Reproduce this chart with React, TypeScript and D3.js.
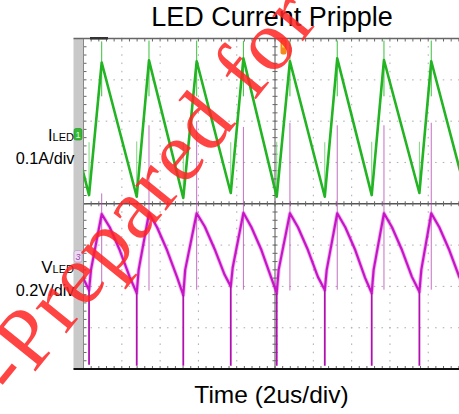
import React from 'react';
import * as d3 from 'd3';

const W = 459;
const H = 414;

const titleText = 'LED Current Pripple';
const xLabelText = 'Time (2us/div)';
const ch1Name = ['I', 'LED'];
const ch1Scale = '0.1A/div';
const ch3Name = ['V', 'LED'];
const ch3Scale = '0.2V/div';
const watermarkText = '-Prepared for H';

// time in microseconds (2 us/div, 10 div), amplitude in screen divisions (-4..4)
const timeDomain = [0, 20];
const divDomain = [-4, 4];

// ILED trace vertices (alternating peaks / troughs)
const iledTimes = [-1.51, 0.29, 0.95, 2.78, 3.42, 5.21, 5.91, 7.69, 8.35, 10.09, 10.78, 12.6, 13.25, 15.05, 15.69, 17.54, 18.16, 20.0];
const iledDivs = [3.45, 0.21, 3.42, 0.17, 3.47, 0.14, 3.45, 0.26, 3.52, 0.17, 3.45, 0.17, 3.52, 0.21, 3.48, 0.26, 3.45, 0.2];
// thin switching spikes on ILED
const iledPeakTimes = [0.95, 3.42, 5.91, 8.35, 10.78, 13.25, 15.69, 18.16];
const iledPeakSpikeTop = [3.93, 3.95, 3.95, 3.94, 3.95, 3.95, 3.95, 3.95];
const iledPeakSpikeLow = [2.6, 2.6, 2.6, 2.6, 2.6, 2.6, 2.6, 2.6];
const iledTroughTimes = [0.29, 2.78, 5.21, 7.69, 10.09, 12.6, 15.05, 17.54];
const iledTroughDivs = [0.21, 0.17, 0.14, 0.26, 0.17, 0.17, 0.21, 0.26];
const iledTroughSpikeTop = [1.49, 1.51, 1.5, 1.49, 1.5, 1.49, 1.5, 1.5];

// VLED trace vertices
const vledTimes = [
  -1.51, -1.09, -0.57, -0.05, 0.29,
  0.39, 0.95, 1.37, 1.89, 2.41, 2.78,
  2.88, 3.42, 3.84, 4.36, 4.88, 5.21,
  5.31, 5.91, 6.33, 6.85, 7.37, 7.69,
  7.79, 8.35, 8.77, 9.29, 9.81, 10.09,
  10.19, 10.78, 11.2, 11.72, 12.24, 12.6,
  12.7, 13.25, 13.67, 14.19, 14.71, 15.05,
  15.15, 15.69, 16.11, 16.63, 17.15, 17.54,
  17.64, 18.16, 18.58, 19.1, 19.62, 20.0,
];
const vledDivs = [
  -0.23, -0.57, -1.12, -1.77, -2.09,
  -1.6, -0.25, -0.57, -1.12, -1.77, -2.16,
  -1.6, -0.23, -0.57, -1.12, -1.77, -2.21,
  -1.6, -0.23, -0.55, -1.1, -1.72, -2.0,
  -1.55, -0.22, -0.57, -1.12, -1.8, -2.16,
  -1.6, -0.23, -0.57, -1.12, -1.77, -2.09,
  -1.6, -0.23, -0.57, -1.12, -1.8, -2.16,
  -1.6, -0.23, -0.57, -1.12, -1.77, -2.13,
  -1.6, -0.23, -0.57, -1.12, -1.77, -2.1,
];
// deep negative spikes at the switching instants
const vledTroughTimes = [0.29, 2.78, 5.21, 7.69, 10.09, 12.6, 15.05, 17.54];
const vledTroughDivs = [-2.09, -2.16, -2.21, -2.0, -2.16, -2.09, -2.16, -2.13];
const vledSpikeBottom = [-3.9, -3.92, -3.92, -3.92, -3.92, -3.92, -3.92, -3.92];
// thin spikes at the peaks
const vledPeakTimes = [0.95, 3.42, 5.91, 8.35, 10.78, 13.25, 15.69, 18.16];
const vledPeakSpikeTop = [0.25, 1.9, 2.0, 1.86, 1.96, 1.9, 1.9, 1.96];
const vledPeakSpikeBottom = [-2.05, -2.1, -2.08, -2.08, -2.1, -2.08, -2.08, -2.08];

const SANS = 'Liberation Sans, Arial, Helvetica, sans-serif';
const SERIF = 'Liberation Serif, Times New Roman, serif';

export default function App() {
  const x = d3.scaleLinear().domain(timeDomain).range([83.5, 466.5]);
  const y = d3.scaleLinear().domain(divDomain).range([369, 38.5]);
  const line = d3.line<[number, number]>().x((d) => x(d[0])).y((d) => y(d[1]));

  const iledPts = iledTimes.map((t, i) => [t, iledDivs[i]] as [number, number]);
  const vledPts = vledTimes.map((t, i) => [t, vledDivs[i]] as [number, number]);

  const left = 83.5;
  const right = W;
  const top = y(4);
  const bottom = y(-4);
  const cx = x(10);
  const cy = y(0);

  const minorX = d3.range(0, 20.001, 0.4);
  const minorY = d3.range(-4, 4.001, 0.2);
  const majorX = d3.range(2, 19.9, 2).filter((v) => Math.abs(v - 10) > 0.01);
  const majorY = [-3, -2, -1, 1, 2, 3];

  return (
    <svg width={W} height={H} style={{ position: 'absolute', left: 0, top: 0, background: '#fff' }}>
      <defs>
        <clipPath id="plotClip">
          <rect x={left} y={top} width={right - left} height={bottom - top} />
        </clipPath>
      </defs>
      <rect x={0} y={0} width={W} height={H} fill="#fff" />
      {/* gray strip */}
      <rect x={73.5} y={top} width={left - 73.5} height={bottom - top} fill="#c9c9c9" />

      {/* dotted grid */}
      <g fill="#b4b4b4">
        {majorY.map((d) =>
          minorX.map((t) => (
            <rect key={`h${d}-${t}`} x={x(t) - 0.8} y={y(d) - 0.5} width={1.6} height={1.1} />
          ))
        )}
        {majorX.map((t) =>
          minorY.map((d) => (
            <rect key={`v${t}-${d}`} x={x(t) - 0.5} y={y(d) - 0.8} width={1.1} height={1.6} />
          ))
        )}
      </g>

      {/* center axes */}
      <line x1={left} x2={right} y1={cy} y2={cy} stroke="#555" strokeWidth={1.5} />
      <line x1={cx} x2={cx} y1={top} y2={bottom} stroke="#555" strokeWidth={1} />
      <g stroke="#666" strokeWidth={1}>
        {minorX.map((t) => (
          <line key={`cxt${t}`} x1={x(t)} x2={x(t)} y1={cy - 2.5} y2={cy + 2.5} />
        ))}
        {minorY.map((d) => (
          <line key={`cyt${d}`} x1={cx - 2.5} x2={cx + 2.5} y1={y(d)} y2={y(d)} />
        ))}
        {minorX.map((t) => (
          <line key={`tt${t}`} x1={x(t)} x2={x(t)} y1={top} y2={top + 3} />
        ))}
        {minorX.map((t) => (
          <line key={`bt${t}`} x1={x(t)} x2={x(t)} y1={bottom} y2={bottom - 3} />
        ))}
        {minorY.map((d) => (
          <line key={`lt${d}`} x1={left} x2={left + 3} y1={y(d)} y2={y(d)} />
        ))}
      </g>
      {/* borders */}
      <line x1={left} x2={left} y1={top} y2={bottom} stroke="#888" strokeWidth={1} />
      <line x1={73.5} x2={right} y1={top} y2={top} stroke="#666" strokeWidth={1.5} />
      <line x1={73.5} x2={right} y1={bottom} y2={bottom} stroke="#111" strokeWidth={2} />
      <rect x={90} y={top - 1.5} width={18} height={2.5} fill="#333" />

      <g clipPath="url(#plotClip)">
        {/* VLED thin peak spikes */}
        <g stroke="#b040b0" strokeWidth={1} opacity={0.75}>
          {vledPeakTimes.map((t, i) => (
            <line key={`vps${i}`} x1={x(t)} x2={x(t)} y1={y(vledPeakSpikeTop[i])} y2={y(vledPeakSpikeBottom[i])} />
          ))}
        </g>
        {/* ILED thin spikes */}
        <g stroke="#7fd47f" strokeWidth={1}>
          {iledTroughTimes.map((t, i) => (
            <line key={`its${i}`} x1={x(t)} x2={x(t)} y1={y(iledTroughSpikeTop[i])} y2={y(iledTroughDivs[i])} />
          ))}
        </g>
        <g stroke="#3cbf3c" strokeWidth={1}>
          {iledPeakTimes.map((t, i) => (
            <line key={`ips${i}`} x1={x(t)} x2={x(t)} y1={y(iledPeakSpikeTop[i])} y2={y(iledPeakSpikeLow[i])} />
          ))}
        </g>
        {/* ILED trace */}
        <path d={line(iledPts) || ''} fill="none" stroke="#22b422" strokeWidth={2.6} strokeLinejoin="round" />
        {/* VLED trace */}
        <path d={line(vledPts) || ''} fill="none" stroke="#d030d0" strokeWidth={4} opacity={0.35} strokeLinejoin="round" />
        <path d={line(vledPts) || ''} fill="none" stroke="#c814c8" strokeWidth={2.2} strokeLinejoin="round" />
        {/* VLED deep spikes */}
        <g stroke="#b010b0" strokeWidth={1.8}>
          {vledTroughTimes.map((t, i) => (
            <line key={`vts${i}`} x1={x(t)} x2={x(t)} y1={y(vledTroughDivs[i])} y2={y(vledSpikeBottom[i])} />
          ))}
        </g>
      </g>

      {/* trigger marker */}
      <rect x={280.5} y={top + 1} width={6} height={15} rx={2} fill="#f28a1e" />
      <rect x={282} y={top + 2} width={3} height={7} fill="#f7d34a" />

      {/* channel markers */}
      <rect x={74} y={128.5} width={8} height={11.5} rx={2} fill="#34b834" stroke="#1f8f1f" strokeWidth={0.6} />
      <text x={78} y={138} fontFamily={SANS} fontSize={9} fill="#dff5df" textAnchor="middle">1</text>
      <rect x={74} y={250.5} width={8} height={11.5} rx={2} fill="#eadcf0" stroke="#b88cc8" strokeWidth={0.6} />
      <text x={78} y={260} fontFamily={SANS} fontSize={9} fill="#9a44a8" textAnchor="middle" fontStyle="italic">3</text>

      {/* channel labels */}
      <text x={74} y={141} textAnchor="end" fontFamily={SANS} fill="#000">
        <tspan fontSize={16.3}>{ch1Name[0]}</tspan>
        <tspan fontSize={11}>{ch1Name[1]}</tspan>
      </text>
      <text x={74.5} y={163.5} textAnchor="end" fontFamily={SANS} fontSize={16.3} fill="#000">{ch1Scale}</text>
      <text x={74} y={273} textAnchor="end" fontFamily={SANS} fill="#000">
        <tspan fontSize={17}>{ch3Name[0]}</tspan>
        <tspan fontSize={11}>{ch3Name[1]}</tspan>
      </text>
      <text x={74.5} y={295.5} textAnchor="end" fontFamily={SANS} fontSize={16.3} fill="#000">{ch3Scale}</text>

      {/* title and axis label */}
      <text x={272} y={25.5} textAnchor="middle" fontFamily={SANS} fontSize={27} fill="#000">{titleText}</text>
      <text x={271.5} y={403} textAnchor="middle" fontFamily={SANS} fontSize={24.5} fill="#000">{xLabelText}</text>

      {/* watermark */}
      <text
        transform="translate(14,398) rotate(-51)"
        fontFamily={SERIF}
        fontSize={86}
        letterSpacing={2.5}
        fill="#ff2424"
        opacity={0.85}
      >
        {watermarkText}
      </text>
    </svg>
  );
}
